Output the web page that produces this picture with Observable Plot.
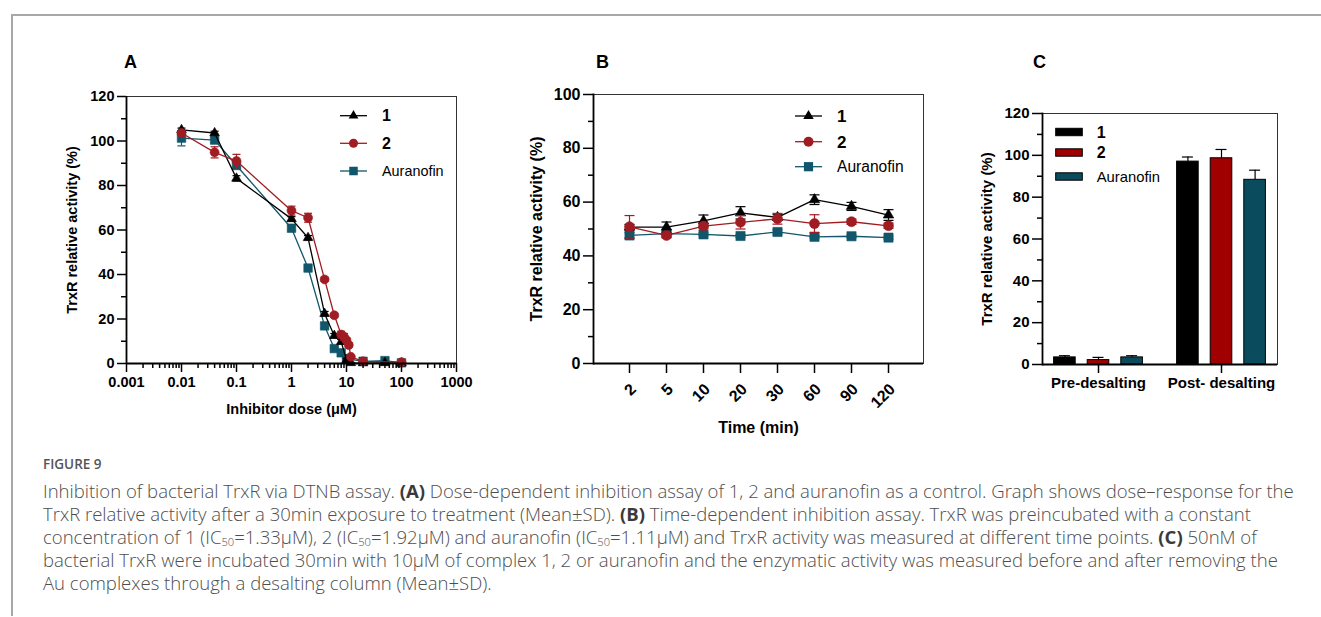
<!DOCTYPE html>
<html>
<head>
<meta charset="utf-8">
<script src="https://cdn.jsdelivr.net/npm/d3@7"></script>
<script src="https://cdn.jsdelivr.net/npm/@observablehq/plot@0.6"></script>
<style>
  body { margin: 0; background: #fff; }
  #wrap { position: relative; width: 1321px; height: 617px; overflow: hidden; background: #fff;
          font-family: "Liberation Sans", Arial, sans-serif; }
  #figframe { position: absolute; left: 11px; top: 14px; width: 1320px; height: 600px;
              border-top: 2px solid #a8a8a8; border-left: 2px solid #a8a8a8; }
  .panel { position: absolute; font-weight: bold; font-size: 18px; line-height: 18px; color: #000; }
  #figlabel { position: absolute; left: 43px; top: 454px; font-family: "Open Sans", sans-serif; font-weight: 600;
              font-size: 13.5px; line-height: 20px; color: #555; }
  #caption { position: absolute; left: 43px; top: 479px; font-family: "Open Sans", sans-serif; font-weight: 300; color: #4e4e4e;
             font-size: 15px; line-height: 23px; }
  #caption .ln { white-space: nowrap; height: 23px; }
  #caption b { font-weight: 700; color: #3a3a3a; }
  #caption sub { font-size: 0.6em; vertical-align: baseline; position: relative; top: 0.15em; line-height: 1; }
</style>
</head>
<body>
<div id="wrap">
  <div id="figframe"></div>
  <div class="panel" style="left:124px; top:53px;">A</div>
  <div class="panel" style="left:596px; top:53px;">B</div>
  <div class="panel" style="left:1033px; top:53px;">C</div>
  <div id="figlabel">FIGURE 9</div>
  <div id="caption">
    <div class="ln" id="ln1">Inhibition of bacterial TrxR via DTNB assay. <b>(A)</b> Dose-dependent inhibition assay of 1, 2 and auranofin as a control. Graph shows dose–response for the</div>
    <div class="ln">TrxR relative activity after a 30min exposure to treatment (Mean±SD). <b>(B)</b> Time-dependent inhibition assay. TrxR was preincubated with a constant</div>
    <div class="ln">concentration of 1 (IC<sub>50</sub>=1.33μM), 2 (IC<sub>50</sub>=1.92μM) and auranofin (IC<sub>50</sub>=1.11μM) and TrxR activity was measured at different time points. <b>(C)</b> 50nM of</div>
    <div class="ln">bacterial TrxR were incubated 30min with 10μM of complex 1, 2 or auranofin and the enzymatic activity was measured before and after removing the</div>
    <div class="ln">Au complexes through a desalting column (Mean±SD).</div>
  </div>
</div>
<script>
// ---------------- DATA ----------------
const seriesNames = ["1", "2", "Auranofin"];

// Panel A: dose-response (dose in µM, activity in %)
const doseA1 = [0.01, 0.04, 0.1, 1, 2, 4, 6, 8, 10, 12, 20, 50, 100];
const actA1  = [105, 103.6, 83.2, 65, 56.5, 22.4, 12.5, 9.8, 1.5, 0.3, 0.2, 0.3, 0.2];
const errA1  = [0.8, 0.8, 1.2, 1, 1, 1, 1, 1, 0.8, 0.2, 0.1, 0.2, 0.1];

const doseA2 = [0.01, 0.04, 0.1, 1, 2, 4, 6, 8, 9, 10, 11, 12, 20, 100];
const actA2  = [103.6, 94.9, 91, 68.7, 65.5, 37.8, 21.7, 13, 12, 10.5, 8.3, 3, 1, 0.6];
const errA2  = [1, 2.5, 3, 2, 2, 0.8, 0.8, 1.5, 1.5, 1, 1, 0.5, 0.5, 0.4];

const doseA3 = [0.01, 0.04, 0.1, 1, 2, 4, 6, 8, 10, 20, 50, 100];
const actA3  = [101.3, 100.4, 89, 60.8, 42.9, 16.9, 6.7, 4.8, 2.2, 1, 1.3, 0.3];
const errA3  = [3.5, 1, 1.5, 1, 1, 1, 0.8, 0.8, 0.5, 0.3, 0.3, 0.2];

const yTicksA = [0, 20, 40, 60, 80, 100, 120];
const yMinorA = [10, 30, 50, 70, 90, 110];
const xTicksA = [0.001, 0.01, 0.1, 1, 10, 100, 1000];
const xTickLabelsA = ["0.001", "0.01", "0.1", "1", "10", "100", "1000"];

// Panel B: time course (min)
const timeB  = ["2", "5", "10", "20", "30", "60", "90", "120"];
const actB1  = [50.7, 50.7, 53, 56, 54.3, 60.9, 58.4, 55.2];
const errB1  = [1, 1.9, 2.2, 2.3, 1, 1.8, 1.5, 2];
const actB2  = [50.8, 47.6, 51.1, 52.5, 53.8, 52, 52.7, 51.2];
const errB2  = [4.2, 0.8, 1, 2.5, 2, 3.3, 1, 1];
const actB3  = [47.6, 48.3, 48, 47.4, 48.9, 47.1, 47.3, 46.8];
const errB3  = [1, 0.5, 0.5, 0.5, 0.8, 0.5, 0.5, 0.5];
const yTicksB = [0, 20, 40, 60, 80, 100];
const yMinorB = [10, 30, 50, 70, 90];

// Panel C: desalting
const groupsC = ["Pre-desalting", "Post- desalting"];
const preC     = [3.4, 2.1, 3.4];
const preErrC  = [0.8, 1.3, 0.8];
const postC    = [97, 98.6, 88.3];
const postErrC = [2.2, 4.2, 4.6];
const yTicksC = [0, 20, 40, 60, 80, 100, 120];
const yMinorC = [10, 30, 50, 70, 90, 110];

// ---------------- STYLE ----------------
const BLACK = "#000000", RED = "#a01c22", TEAL = "#11566a";
const BAR_RED = "#a00000", BAR_TEAL = "#0b4b5e";
const FONT = "'Liberation Sans', Arial, sans-serif";
const wrap = document.getElementById("wrap");

const capSym = { draw(ctx, size) { const r = Math.sqrt(size / Math.PI); ctx.moveTo(-r, 0); ctx.lineTo(r, 0); } };
const rowsOf = (xs, ys, es) => xs.map((x, i) => ({x, y: ys[i], e: es[i]}));

function seriesMarks(s, capR, lw) {
  return [
    Plot.ruleX(s.rows, {x: "x", y1: d => d.y - d.e, y2: d => d.y + d.e, stroke: s.color, strokeWidth: 1.2}),
    Plot.dot(s.rows, {x: "x", y: d => d.y + d.e, symbol: capSym, r: capR, fill: "none", stroke: s.color, strokeWidth: 1.2}),
    Plot.dot(s.rows, {x: "x", y: d => d.y - d.e, symbol: capSym, r: capR, fill: "none", stroke: s.color, strokeWidth: 1.2}),
    Plot.line(s.rows, {x: "x", y: "y", stroke: s.color, strokeWidth: lw}),
    Plot.dot(s.rows, {x: "x", y: "y", symbol: s.symbol, r: s.r, fill: s.color, stroke: s.color, strokeWidth: 0.6})
  ];
}

function place(node, left, top) {
  node.style.position = "absolute";
  node.style.left = left + "px";
  node.style.top = top + "px";
  wrap.appendChild(node);
}

// ---------------- PANEL A ----------------
const seriesA = [
  {rows: rowsOf(doseA3, actA3, errA3), color: TEAL,  symbol: "square",   r: 4.8},
  {rows: rowsOf(doseA1, actA1, errA1), color: BLACK, symbol: "triangle", r: 3.6},
  {rows: rowsOf(doseA2, actA2, errA2), color: RED,   symbol: "circle",   r: 4.5}
];
const xLabelMapA = new Map(xTicksA.map((t, i) => [t, xTickLabelsA[i]]));
const xMinorA = d3.scaleLog().domain([0.001, 1000]).ticks().filter(t => !xTicksA.some(m => Math.abs(m - t) / m < 1e-9));

const plotA = Plot.plot({
  width: 436, height: 343,
  marginLeft: 86, marginTop: 16, marginRight: 20, marginBottom: 60,
  style: {fontFamily: FONT, fontSize: "14.5px", fontWeight: "bold", color: "#000", background: "transparent", overflow: "visible"},
  x: {type: "log", domain: [0.001, 1000]},
  y: {domain: [0, 120]},
  marks: [
    Plot.frame({stroke: "#333", strokeWidth: 1}),
    ...seriesA.flatMap(s => seriesMarks(s, 4, 1.3)),
    Plot.axisY({ticks: yTicksA, tickSize: 9, tickPadding: 3, strokeWidth: 1.5,
      label: "TrxR relative activity (%)", labelAnchor: "center", labelOffset: 60, labelArrow: "none"}),
    Plot.axisY({ticks: yMinorA, tickSize: 5, strokeWidth: 1.5, tickFormat: () => "", label: null}),
    Plot.axisX({ticks: xTicksA, tickFormat: d => xLabelMapA.get(d), tickSize: 9, tickPadding: 4, strokeWidth: 1.5,
      label: "Inhibitor dose (μM)", labelAnchor: "center", labelOffset: 50, labelArrow: "none"}),
    Plot.axisX({ticks: xMinorA, tickSize: 5, strokeWidth: 1.5, tickFormat: () => "", label: null}),
    Plot.ruleX([0.001], {stroke: "#000", strokeWidth: 1.8}),
    Plot.ruleY([0], {stroke: "#000", strokeWidth: 1.8})
  ]
});
place(plotA, 40, 80);

// ---------------- PANEL B ----------------
const seriesB = [
  {rows: rowsOf(timeB, actB3, errB3), color: TEAL,  symbol: "square",   r: 5.2},
  {rows: rowsOf(timeB, actB1, errB1), color: BLACK, symbol: "triangle", r: 3.9},
  {rows: rowsOf(timeB, actB2, errB2), color: RED,   symbol: "circle",   r: 5}
];
const plotB = Plot.plot({
  width: 443, height: 363,
  marginLeft: 93, marginTop: 14, marginRight: 20, marginBottom: 80,
  style: {fontFamily: FONT, fontSize: "16px", fontWeight: "bold", color: "#000", background: "transparent", overflow: "visible"},
  x: {type: "point", domain: timeB, padding: 0.855},
  y: {domain: [0, 100]},
  marks: [
    Plot.frame({stroke: "#333", strokeWidth: 1}),
    ...seriesB.flatMap(s => seriesMarks(s, 5, 1.3)),
    Plot.axisY({ticks: yTicksB, tickSize: 10, tickPadding: 3, strokeWidth: 1.5,
      label: "TrxR relative activity (%)", labelAnchor: "center", labelOffset: 63, labelArrow: "none"}),
    Plot.axisY({ticks: yMinorB, tickSize: 5, strokeWidth: 1.5, tickFormat: () => "", label: null}),
    Plot.axisX({tickSize: 10, tickPadding: 13, tickRotate: -45, strokeWidth: 1.5, textStroke: "none",
      label: null}),
    Plot.axisX({tickSize: 0, tickFormat: () => "", label: "Time (min)", labelAnchor: "center", labelOffset: 69, labelArrow: "none"}),
    Plot.frame({anchor: "left", stroke: "#000", strokeWidth: 1.8}),
    Plot.ruleY([0], {stroke: "#000", strokeWidth: 1.8})
  ]
});
place(plotB, 500, 80);
// nudge rotated tick labels of B to the right like the reference
plotB.querySelectorAll("g[aria-label='x-axis tick label']").forEach(g => g.setAttribute("transform", (g.getAttribute("transform") || "") + " translate(4,0)"));

// ---------------- PANEL C ----------------
const colorsC = [BLACK, BAR_RED, BAR_TEAL];
const offsetsC = [-33.6, 0, 33.6];
const barInset = 45.2, capInset = 50.5;
const rowsC = seriesNames.map((name, k) => [
  {group: groupsC[0], series: name, v: preC[k],  e: preErrC[k]},
  {group: groupsC[1], series: name, v: postC[k], e: postErrC[k]}
]);
const plotC = Plot.plot({
  width: 337, height: 324,
  marginLeft: 82, marginTop: 23, marginRight: 20, marginBottom: 50,
  style: {fontFamily: FONT, fontSize: "15px", fontWeight: "bold", color: "#000", background: "transparent", overflow: "visible"},
  x: {domain: groupsC, paddingInner: 0.09, paddingOuter: 0},
  y: {domain: [0, 120]},
  marks: [
    Plot.frame({stroke: "#333", strokeWidth: 1}),
    ...rowsC.flatMap((rows, k) => [
      Plot.ruleX(rows, {x: "group", y1: "v", y2: d => d.v + d.e, dx: offsetsC[k], stroke: "#000", strokeWidth: 1.2}),
      Plot.tickY(rows, {x: "group", y: d => d.v + d.e, dx: offsetsC[k], insetLeft: capInset, insetRight: capInset, stroke: "#000", strokeWidth: 1.2}),
      Plot.barY(rows, {x: "group", y: "v", dx: offsetsC[k], insetLeft: barInset, insetRight: barInset,
        fill: colorsC[k], stroke: "#000", strokeWidth: 1})
    ]),
    Plot.axisY({ticks: yTicksC, tickSize: 10, tickPadding: 3, strokeWidth: 1.5, fontSize: 15,
      label: "TrxR relative activity (%)", labelAnchor: "center", labelOffset: 61, labelArrow: "none"}),
    Plot.axisY({ticks: yMinorC, tickSize: 5, strokeWidth: 1.5, tickFormat: () => "", label: null}),
    Plot.axisX({tickSize: 9, tickPadding: 4, strokeWidth: 1.5, label: null}),
    Plot.frame({anchor: "left", stroke: "#000", strokeWidth: 1.8}),
    Plot.ruleY([0], {stroke: "#000", strokeWidth: 1.8})
  ]
});
place(plotC, 960, 90);

// ---------------- LEGENDS ----------------
const symbolTypes = {triangle: d3.symbolTriangle, circle: d3.symbolCircle, square: d3.symbolSquare};
function lineLegend(left, top, o) {
  const svg = d3.create("svg").attr("width", 150).attr("height", 90).style("overflow", "visible");
  seriesNames.forEach((name, i) => {
    const it = o.items[i], y = o.ys[i];
    svg.append("line").attr("x1", o.x1).attr("x2", o.x2).attr("y1", y).attr("y2", y)
      .attr("stroke", it.color).attr("stroke-width", 1.3);
    svg.append("path").attr("d", d3.symbol(symbolTypes[it.symbol], Math.PI * it.r * it.r)())
      .attr("transform", `translate(${(o.x1 + o.x2) / 2},${y})`).attr("fill", it.color);
    svg.append("text").attr("x", o.tx).attr("y", y).attr("dy", "0.36em")
      .attr("font-family", FONT).attr("font-size", i < 2 ? o.fsBold : o.fs)
      .attr("font-weight", i < 2 ? "bold" : "normal").attr("fill", "#000").text(name);
  });
  place(svg.node(), left, top);
}
lineLegend(330, 100, {x1: 10, x2: 37, tx: 52, ys: [15.7, 43.3, 71], fs: 14.4, fsBold: 16,
  items: [{color: BLACK, symbol: "triangle", r: 3.6}, {color: RED, symbol: "circle", r: 4.5}, {color: TEAL, symbol: "square", r: 4.8}]});
lineLegend(785, 100, {x1: 10, x2: 37, tx: 52, ys: [16, 41.7, 66.7], fs: 15.6, fsBold: 17,
  items: [{color: BLACK, symbol: "triangle", r: 3.9}, {color: RED, symbol: "circle", r: 5}, {color: TEAL, symbol: "square", r: 5.2}]});

(function barLegend(left, top) {
  const svg = d3.create("svg").attr("width", 150).attr("height", 80).style("overflow", "visible");
  const ys = [12, 32.5, 56.5];
  seriesNames.forEach((name, i) => {
    svg.append("rect").attr("x", 5.7).attr("y", ys[i] - 3.7).attr("width", 26.6).attr("height", 7.4)
      .attr("fill", colorsC[i]).attr("stroke", "#000").attr("stroke-width", 1);
    svg.append("text").attr("x", 46.7).attr("y", ys[i]).attr("dy", "0.36em")
      .attr("font-family", FONT).attr("font-size", i < 2 ? 16 : 14.8)
      .attr("font-weight", i < 2 ? "bold" : "normal").attr("fill", "#000").text(name);
  });
  place(svg.node(), left, top);
})(1050, 120);

// ---------------- CAPTION FIT ----------------
(function fitCaption() {
  const ln1 = document.getElementById("ln1");
  const r = document.createRange();
  r.selectNodeContents(ln1);
  const w = r.getBoundingClientRect().width;
  const target = 1252;
  if (w > 0) {
    const cap = document.getElementById("caption");
    const fs = parseFloat(getComputedStyle(cap).fontSize);
    cap.style.fontSize = (fs * target / w).toFixed(2) + "px";
  }
})();
</script>
</body>
</html>
